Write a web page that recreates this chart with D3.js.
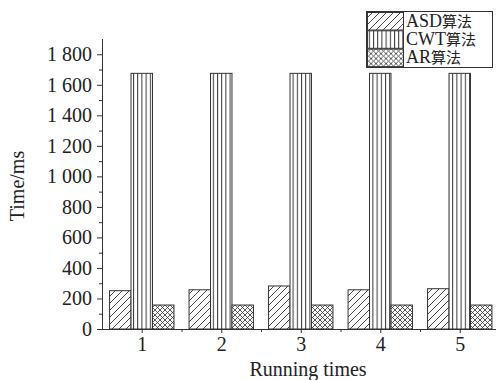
<!DOCTYPE html>
<html>
<head>
<meta charset="utf-8">
<script src="https://cdn.jsdelivr.net/npm/d3@7"></script>
<style>
  body { margin: 0; background: #fff; }
  svg { display: block; }
  text { font-family: "Liberation Serif", "Times New Roman", "Noto Sans CJK SC", serif; fill: #222; }
</style>
</head>
<body>
<svg id="chart" width="496" height="380"></svg>
<script>
// data
const runs = [1, 2, 3, 4, 5];
const asd = [251, 257, 282, 257, 264];
const cwt = [1675, 1675, 1675, 1675, 1675];
const ar = [157, 157, 157, 157, 157];
const seriesNames = ['ASD', 'CWT', 'AR'];
const yTicks = [0, 200, 400, 600, 800, 1000, 1200, 1400, 1600, 1800];

const svg = d3.select('#chart');
const ink = '#333';

const x = d3.scaleLinear().domain([0.5, 5.5]).range([102, 499.5]);
const y = d3.scaleLinear().domain([0, 1900]).range([329, 39]);

// patterns
const defs = svg.append('defs');
let p = defs.append('pattern').attr('id', 'pDiag').attr('patternUnits', 'userSpaceOnUse')
    .attr('width', 7).attr('height', 7);
p.append('path').attr('d', 'M-1,8 L8,-1 M-2,2 L2,-2 M5,9 L9,5').attr('stroke', ink).attr('stroke-width', 0.9);

p = defs.append('pattern').attr('id', 'pVert').attr('patternUnits', 'userSpaceOnUse')
    .attr('width', 4.2).attr('height', 10).attr('x', 133);
p.append('line').attr('x1', 0.5).attr('x2', 0.5).attr('y1', 0).attr('y2', 10).attr('stroke', ink).attr('stroke-width', 1);

p = defs.append('pattern').attr('id', 'pCross').attr('patternUnits', 'userSpaceOnUse')
    .attr('width', 5).attr('height', 5);
p.append('path').attr('d', 'M0,0 L5,5 M5,0 L0,5').attr('stroke', ink).attr('stroke-width', 0.8);

const fills = ['url(#pDiag)', 'url(#pVert)', 'url(#pCross)'];
const values = [asd, cwt, ar];
const bw = x(1.27) - x(1);

// bars
values.forEach((vals, si) => {
    const g = svg.append('g');
    const rows = runs.map((r, i) => ({ r: r, v: vals[i] }));
    g.selectAll('rect.bg').data(rows).enter().append('rect')
        .attr('class', 'bg')
        .attr('x', d => x(d.r) + (si - 1.5) * bw)
        .attr('y', d => y(d.v))
        .attr('width', bw)
        .attr('height', d => y(0) - y(d.v))
        .attr('fill', '#fff');
    g.selectAll('rect.bar').data(rows).enter().append('rect')
        .attr('class', 'bar')
        .attr('x', d => x(d.r) + (si - 1.5) * bw)
        .attr('y', d => y(d.v))
        .attr('width', bw)
        .attr('height', d => y(0) - y(d.v))
        .attr('fill', fills[si])
        .attr('stroke', ink)
        .attr('stroke-width', 1);
});

// y axis
const yAxis = svg.append('g').attr('transform', 'translate(102,0)')
    .call(d3.axisLeft(y).tickValues(yTicks).tickSize(5).tickPadding(5)
        .tickFormat(d => d >= 1000 ? Math.floor(d / 1000) + ' ' + d3.format('03d')(d % 1000) : d));
yAxis.select('.domain').attr('d', 'M0.5,' + y(0) + 'V' + y(1900)).attr('stroke', ink);
yAxis.selectAll('.tick line').attr('stroke', ink);
yAxis.selectAll('.tick text').attr('font-size', 20).attr('fill', '#222')
    .style('font-family', '"Liberation Serif", serif');
svg.append('g').attr('transform', 'translate(102,0)')
    .call(d3.axisLeft(y).tickValues(d3.range(100, 1900, 200)).tickSize(3).tickFormat(''))
    .call(g => g.select('.domain').remove())
    .selectAll('line').attr('stroke', ink);

// x axis
const xAxis = svg.append('g').attr('transform', 'translate(0,329)')
    .call(d3.axisBottom(x).tickValues(runs).tickSize(4).tickPadding(4).tickFormat(d3.format('d')));
xAxis.select('.domain').attr('d', 'M102,0.5H496').attr('stroke', ink);
xAxis.selectAll('.tick line').attr('stroke', ink);
xAxis.selectAll('.tick text').attr('font-size', 20).attr('fill', '#222')
    .style('font-family', '"Liberation Serif", serif');
svg.append('g').attr('transform', 'translate(0,329)')
    .call(d3.axisBottom(x).tickValues([1.5, 2.5, 3.5, 4.5]).tickSize(3).tickFormat(''))
    .call(g => g.select('.domain').remove())
    .selectAll('line').attr('stroke', ink);

// axis titles
svg.append('text').attr('x', 308).attr('y', 376).attr('text-anchor', 'middle')
    .attr('font-size', 20).text('Running times');
svg.append('text').attr('transform', 'translate(24,186) rotate(-90)').attr('text-anchor', 'middle')
    .attr('font-size', 20).text('Time/ms');

// legend
const leg = svg.append('g').attr('transform', 'translate(366,11)');
leg.append('rect').attr('x', 0.5).attr('y', 0.5).attr('width', 126).attr('height', 56)
    .attr('fill', '#fff').attr('stroke', ink).attr('stroke-width', 1);
seriesNames.forEach((n, i) => {
    const row = leg.append('g').attr('transform', 'translate(0,' + (1 + i * 18.3) + ')');
    row.append('rect').attr('x', 1.5).attr('y', 0.5).attr('width', 36).attr('height', 17.5)
        .attr('fill', fills[i]).attr('stroke', ink).attr('stroke-width', 1);
    const t = row.append('text').attr('x', 40).attr('y', 14.5).attr('font-size', 18);
    t.append('tspan').text(n);
    t.append('tspan').attr('font-size', 15)
        .style('font-family', '"Noto Sans CJK SC", sans-serif').text('算法');
});
</script>
</body>
</html>
